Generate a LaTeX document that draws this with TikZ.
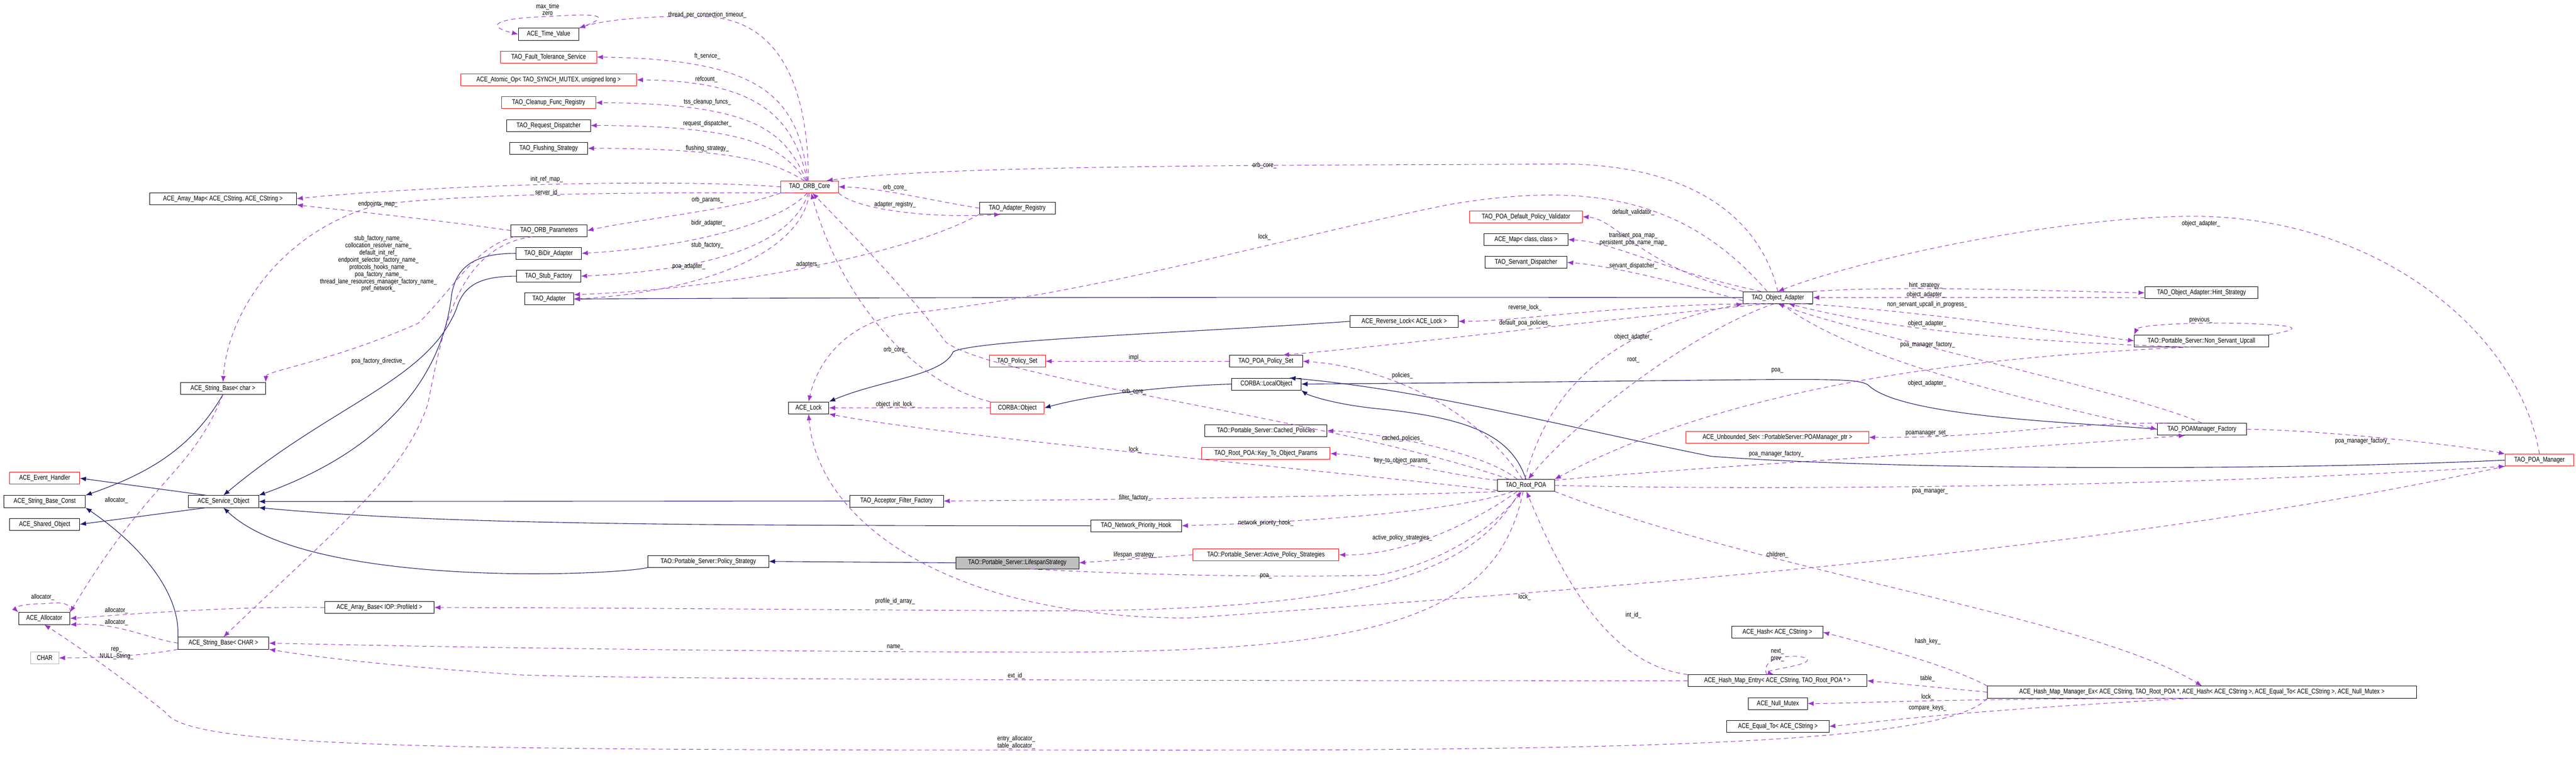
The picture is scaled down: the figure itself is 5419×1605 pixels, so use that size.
\documentclass[tikz,border=0pt]{standalone}
\usepackage{fontspec}
\setmainfont{Liberation Sans}[FakeStretch=0.8]
\usetikzlibrary{arrows.meta}
\definecolor{mem}{HTML}{9A32CD}
\definecolor{inh}{HTML}{191970}
\tikzset{
 cls/.style={draw=black,line width=0.9pt,font=\fontsize{14.5}{16}\selectfont,inner sep=2pt,minimum height=25pt,fill=white},
 rcls/.style={cls,draw=red},
 lbl/.style={font=\fontsize{14}{15}\selectfont,inner sep=0pt,align=center},
 memb/.style={draw=mem,line width=1.1pt,dash pattern=on 9pt off 7pt,arrows={-{Latex[length=13pt,width=10pt,fill=mem,color=mem]}}},
 inhe/.style={draw=inh,line width=1.2pt,arrows={-{Latex[length=13pt,width=10pt,fill=inh,color=inh]}}}
}
\begin{document}
\begin{tikzpicture}[x=1pt,y=-1pt]
\useasboundingbox (0,0) rectangle (5419,1605);
% ---- inheritance edges (drawn first, boxes on top)
\node[cls,minimum width=309] (am) at (469,418) {ACE\_Array\_Map< ACE\_CString, ACE\_CString >};
\node[cls,minimum width=179] (sbc) at (469,817) {ACE\_String\_Base< char >};
\node[rcls,minimum width=147] (eh) at (94,1006) {ACE\_Event\_Handler};
\node[cls,minimum width=171] (sbconst) at (94,1055) {ACE\_String\_Base\_Const};
\node[cls,minimum width=148] (so) at (470,1055) {ACE\_Service\_Object};
\node[cls,minimum width=147] (sho) at (94,1103) {ACE\_Shared\_Object};
\node[cls,minimum width=108] (alloc) at (93,1301) {ACE\_Allocator};
\node[cls,draw=gray!60,minimum width=59] (chr) at (94,1384) {CHAR};
\node[cls,minimum width=191] (sbC) at (470,1353) {ACE\_String\_Base< CHAR >};
\node[cls,minimum width=230] (ab) at (798,1278) {ACE\_Array\_Base< IOP::ProfileId >};
\node[cls,minimum width=127] (tv) at (1154,72) {ACE\_Time\_Value};
\node[rcls,minimum width=202] (ft) at (1154,120) {TAO\_Fault\_Tolerance\_Service};
\node[rcls,minimum width=370] (ao) at (1154,168) {ACE\_Atomic\_Op< TAO\_SYNCH\_MUTEX, unsigned long >};
\node[rcls,minimum width=198] (cfr) at (1154,216) {TAO\_Cleanup\_Func\_Registry};
\node[cls,minimum width=176] (rd) at (1154,264) {TAO\_Request\_Dispatcher};
\node[cls,minimum width=164] (fs) at (1154,312) {TAO\_Flushing\_Strategy};
\node[rcls,minimum width=121] (orb) at (1703,393) {TAO\_ORB\_Core};
\node[cls,minimum width=160] (op) at (1155,485) {TAO\_ORB\_Parameters};
\node[cls,minimum width=138] (bidir) at (1154,533) {TAO\_BiDir\_Adapter};
\node[cls,minimum width=135] (stub) at (1154,581) {TAO\_Stub\_Factory};
\node[cls,minimum width=103] (ad) at (1155,629) {TAO\_Adapter};
\node[cls,minimum width=85] (lock) at (1701,858) {ACE\_Lock};
\node[cls,minimum width=197] (aff) at (1886,1054) {TAO\_Acceptor\_Filter\_Factory};
\node[cls,minimum width=254] (ps) at (1490,1181) {TAO::Portable\_Server::Policy\_Strategy};
\node[cls,minimum width=159] (ar) at (2140,438) {TAO\_Adapter\_Registry};
\node[cls,minimum width=227] (rl) at (2954,676) {ACE\_Reverse\_Lock< ACE\_Lock >};
\node[rcls,minimum width=118] (pset) at (2140,760) {TAO\_Policy\_Set};
\node[cls,minimum width=154] (pps) at (2663,760) {TAO\_POA\_Policy\_Set};
\node[cls,minimum width=146] (lo) at (2664,808) {CORBA::LocalObject};
\node[rcls,minimum width=113] (co) at (2140,858) {CORBA::Object};
\node[cls,minimum width=257] (cp) at (2663,906) {TAO::Portable\_Server::Cached\_Policies};
\node[rcls,minimum width=270] (ktop) at (2663,954) {TAO\_Root\_POA::Key\_To\_Object\_Params};
\node[cls,minimum width=191] (nph) at (2390,1106) {TAO\_Network\_Priority\_Hook};
\node[cls,fill=gray!50,minimum width=259] (ls) at (2140,1184) {TAO::Portable\_Server::LifespanStrategy};
\node[rcls,minimum width=307] (aps) at (2663,1167) {TAO::Portable\_Server::Active\_Policy\_Strategies};
\node[rcls,minimum width=237] (dpv) at (3210,456) {TAO\_POA\_Default\_Policy\_Validator};
\node[cls,minimum width=176] (map) at (3210,504) {ACE\_Map< class, class >};
\node[cls,minimum width=172] (sd) at (3210,552) {TAO\_Servant\_Dispatcher};
\node[cls,minimum width=147] (oa) at (3740,626) {TAO\_Object\_Adapter};
\node[rcls,minimum width=384] (us) at (3739,920) {ACE\_Unbounded\_Set< ::PortableServer::POAManager\_ptr >};
\node[cls,minimum width=120] (rp) at (3210,1021) {TAO\_Root\_POA};
\node[cls,minimum width=191] (hash) at (3739,1330) {ACE\_Hash< ACE\_CString >};
\node[cls,minimum width=377] (hme) at (3739,1432) {ACE\_Hash\_Map\_Entry< ACE\_CString, TAO\_Root\_POA * >};
\node[cls,minimum width=124] (nm) at (3740,1480) {ACE\_Null\_Mutex};
\node[cls,minimum width=215] (eq) at (3740,1528) {ACE\_Equal\_To< ACE\_CString >};
\node[cls,minimum width=238] (hs) at (4631,616) {TAO\_Object\_Adapter::Hint\_Strategy};
\node[cls,minimum width=282] (nsu) at (4631,717) {TAO::Portable\_Server::Non\_Servant\_Upcall};
\node[cls,minimum width=188] (pmf) at (4632,903) {TAO\_POAManager\_Factory};
\node[rcls,minimum width=144] (pm) at (5342,968) {TAO\_POA\_Manager};
\node[cls,minimum width=902] (hmm) at (4632,1456) {ACE\_Hash\_Map\_Manager\_Ex< ACE\_CString, TAO\_Root\_POA *, ACE\_Hash< ACE\_CString >, ACE\_Equal\_To< ACE\_CString >, ACE\_Null\_Mutex >};

\draw[inhe] (so.160) -- (eh.east);
\draw[inhe] (so.200) -- (sho.east);
\draw[inhe] (aff.west) -- (so.east);
\draw[inhe] (nph.west) .. controls (1300,1106) and (900,1100) .. (so.south east);
\draw[inhe] (ps.south west) .. controls (1300,1210) and (650,1240) .. (so.south);
\draw[inhe] (ls.west) -- (ps.east);
\draw[inhe] (bidir.west) .. controls (1000,533) and (960,560) .. (950,620) .. controls (930,800) and (800,950) .. (so.north east);
\draw[inhe] (stub.west) .. controls (1010,581) and (975,600) .. (960,650) .. controls (900,800) and (700,850) .. (so.north);
\draw[inhe] (sbc.south) .. controls (400,950) and (300,1000) .. (sbconst.north east);
\draw[inhe] (sbC.north west) .. controls (380,1250) and (300,1150) .. (sbconst.south east);
\draw[inhe] (oa.west) .. controls (3000,625) and (2000,625) .. (ad.east);
\draw[inhe] (rl.west) .. controls (2500,700) and (2050,715) .. (2005,740) .. controls (1985,790) and (1850,800) .. (lock.north east);
\draw[inhe] (lo.west) .. controls (2450,812) and (2300,830) .. (co.east);
\draw[inhe] (rp.north) .. controls (3180,920) and (3100,880) .. (2900,860) .. controls (2800,850) and (2750,830) .. (lo.south east);
\draw[inhe] (pmf.west) .. controls (4400,890) and (4000,880) .. (3930,810) .. controls (3900,790) and (3800,800) .. (lo.east);
\draw[inhe] (pm.west) .. controls (4800,990) and (4000,990) .. (3600,960) .. controls (3300,900) and (3000,820) .. (lo.15);

% ---- member edges
\draw[memb] (orb.100) .. controls (1700,150) and (1620,38) .. (1480,35) .. controls (1350,32) and (1260,45) .. (tv.north east);
\draw[memb] (tv.north east) .. controls (1300,30) and (1250,28) .. (1150,35) .. controls (1040,38) and (1020,55) .. (tv.west);
\draw[memb] (orb.105) .. controls (1680,200) and (1600,125) .. (ft.east);
\draw[memb] (orb.110) .. controls (1670,250) and (1600,170) .. (ao.east);
\draw[memb] (orb.115) .. controls (1650,280) and (1600,218) .. (cfr.east);
\draw[memb] (orb.120) .. controls (1650,320) and (1600,264) .. (rd.east);
\draw[memb] (orb.130) .. controls (1640,350) and (1580,312) .. (fs.east);
\draw[memb] (orb.west) .. controls (1400,375) and (900,390) .. (am.east);
\draw[memb] (orb.200) .. controls (1400,405) and (1000,405) .. (800,430) .. controls (600,480) and (480,650) .. (sbc.north);
\draw[memb] (op.west) .. controls (900,460) and (700,440) .. (am.south east);
\draw[memb] (op.190) .. controls (1000,520) and (960,600) .. (880,680) .. controls (700,760) and (560,780) .. (sbc.north east);
\draw[memb] (op.200) .. controls (960,520) and (930,700) .. (900,850) .. controls (850,1000) and (700,1120) .. (sbC.north);
\draw[memb] (orb.south west) .. controls (1550,440) and (1350,460) .. (op.east);
\draw[memb] (orb.250) .. controls (1640,470) and (1450,520) .. (bidir.east);
\draw[memb] (orb.260) .. controls (1660,530) and (1450,570) .. (stub.east);
\draw[memb] (orb.270) .. controls (1680,560) and (1400,620) .. (ad.east);
\draw[memb] (ar.south west) .. controls (1900,540) and (1500,610) .. (ad.10);
\draw[memb] (ar.west) .. controls (1950,420) and (1850,395) .. (orb.east);
\draw[memb] (orb.south east) .. controls (1800,440) and (1950,460) .. (ar.200);
\draw[memb] (oa.north) .. controls (3700,450) and (3550,350) .. (3300,345) .. controls (2800,348) and (2000,345) .. (orb.20);
\draw[memb] (oa.150) .. controls (3550,420) and (3350,380) .. (3050,430) .. controls (2700,500) and (2300,620) .. (1900,660) .. controls (1780,680) and (1720,760) .. (lock.north);
\draw[memb] (co.north west) .. controls (1900,800) and (1760,600) .. (orb.285);
\draw[memb] (co.west) -- (lock.east);
\draw[memb] (rp.160) .. controls (2800,880) and (2100,800) .. (1990,720) .. controls (1900,600) and (1780,480) .. (orb.295);
\draw[memb] (rp.190) .. controls (2800,990) and (2000,920) .. (lock.south east);
\draw[memb] (pm.south west) .. controls (4500,1150) and (3500,1230) .. (2500,1300) .. controls (2000,1300) and (1720,1100) .. (lock.south);
\draw[memb] (pps.west) -- (pset.east);
\draw[memb] (rp.120) .. controls (3100,850) and (2900,770) .. (pps.east);
\draw[memb] (rp.145) .. controls (3120,950) and (2900,910) .. (cp.east);
\draw[memb] (rp.170) .. controls (3050,1000) and (2900,960) .. (ktop.east);
\draw[memb] (rp.195) .. controls (3000,1040) and (2500,1050) .. (aff.east);
\draw[memb] (rp.205) .. controls (3050,1080) and (2700,1100) .. (nph.east);
\draw[memb] (rp.215) .. controls (3100,1100) and (2950,1170) .. (aps.east);
\draw[memb] (aps.west) -- (ls.east);
\draw[memb] (ls.335) .. controls (2400,1210) and (2700,1215) .. (2900,1210) .. controls (3050,1180) and (3150,1100) .. (rp.235);
\draw[memb] (rp.225) .. controls (3100,1200) and (2900,1285) .. (2200,1285) .. controls (1600,1282) and (1200,1278) .. (ab.east);
\draw[memb] (rp.245) .. controls (3150,1300) and (2900,1372) .. (2200,1372) .. controls (1400,1370) and (900,1360) .. (sbC.east);
\draw[memb] (hme.west) .. controls (3000,1432) and (1500,1432) .. (1100,1420) .. controls (800,1400) and (650,1380) .. (sbC.south east);
\draw[memb] (hme.north west) .. controls (3400,1400) and (3300,1250) .. (rp.275);
\draw[memb] (hme.150) .. controls (3700,1380) and (3780,1375) .. (3800,1385) .. controls (3820,1400) and (3700,1410) .. (hme.120);
\draw[memb] (rp.south east) .. controls (3700,1200) and (4400,1300) .. (hmm.north);
\draw[memb] (hmm.north west) .. controls (4100,1400) and (3950,1360) .. (hash.east);
\draw[memb] (hmm.west) -- (hme.east);
\draw[memb] (hmm.200) .. controls (4050,1470) and (3900,1480) .. (nm.east);
\draw[memb] (hmm.210) .. controls (4050,1500) and (3950,1520) .. (eq.east);
\draw[memb] (hmm.south west) .. controls (4100,1560) and (3500,1578) .. (2500,1578) .. controls (1000,1578) and (400,1578) .. (350,1500) .. controls (250,1420) and (150,1350) .. (alloc.south);
\draw[memb] (rp.east) .. controls (3600,1030) and (4500,1030) .. (pm.south west);
\draw[memb] (rp.10) .. controls (3600,980) and (4300,940) .. (pmf.200);
\draw[memb] (pmf.north) .. controls (4500,830) and (3900,700) .. (oa.south);
\draw[memb] (oa.300) .. controls (3900,760) and (4300,850) .. (pmf.west);
\draw[memb] (pmf.east) .. controls (4900,905) and (5200,940) .. (pm.north west);
\draw[memb] (pmf.170) .. controls (4300,890) and (4200,922) .. (us.east);
\draw[memb] (pm.north) .. controls (5300,700) and (5000,450) .. (4600,455) .. controls (4300,460) and (3900,550) .. (oa.north);
\draw[memb] (oa.10) .. controls (4000,600) and (4300,612) .. (hs.west);
\draw[memb] (hs.185) .. controls (4300,625) and (4000,626) .. (oa.east);
\draw[memb] (oa.345) .. controls (4000,650) and (4350,700) .. (nsu.west);
\draw[memb] (nsu.200) .. controls (4300,720) and (4000,700) .. (oa.330);
\draw[memb] (nsu.north east) .. controls (4800,700) and (4850,690) .. (4800,685) .. controls (4700,675) and (4500,680) .. (nsu.north west);
\draw[memb] (nsu.210) .. controls (4300,745) and (3700,780) .. (rp.north east);
\draw[memb] (oa.240) .. controls (3550,700) and (3300,900) .. (rp.70);
\draw[memb] (rp.100) .. controls (3250,850) and (3350,700) .. (oa.south west);
\draw[memb] (oa.170) .. controls (3450,560) and (3400,460) .. (dpv.east);
\draw[memb] (oa.160) .. controls (3500,570) and (3400,510) .. (map.east);
\draw[memb] (oa.185) .. controls (3550,600) and (3400,560) .. (sd.east);
\draw[memb] (oa.200) .. controls (3400,640) and (3200,676) .. (rl.east);
\draw[memb] (oa.210) .. controls (3300,680) and (3000,720) .. (pps.20);
\draw[memb] (sbc.south) .. controls (400,1000) and (320,1000) .. (alloc.north east);
\draw[memb] (alloc.north east) .. controls (150,1260) and (110,1270) .. (90,1270) .. controls (40,1270) and (30,1280) .. (alloc.north west);
\draw[memb] (ab.west) .. controls (500,1275) and (300,1290) .. (alloc.east);
\draw[memb] (sbC.west) .. controls (300,1340) and (250,1310) .. (alloc.south east);
\draw[memb] (sbC.south west) .. controls (300,1380) and (200,1384) .. (chr.east);

% ---- labels
\node[lbl] (l1) at (1152,20) {max\_time\\zero};
\node[lbl] (l2) at (1488,32) {thread\_per\_connection\_timeout\_};
\node[lbl] (l3) at (1488,118) {ft\_service\_};
\node[lbl] (l4) at (1486,167) {refcount\_};
\node[lbl] (l5) at (1488,215) {tss\_cleanup\_funcs\_};
\node[lbl] (l6) at (1488,260) {request\_dispatcher\_};
\node[lbl] (l7) at (1488,312) {flushing\_strategy\_};
\node[lbl] (l8) at (1150,377) {init\_ref\_map\_};
\node[lbl] (l9) at (1152,405) {server\_id\_};
\node[lbl] (l10) at (795,429) {endpoints\_map\_};
\node[lbl] (l11) at (796,555) {stub\_factory\_name\_\\collocation\_resolver\_name\_\\default\_init\_ref\_\\endpoint\_selector\_factory\_name\_\\protocols\_hooks\_name\_\\poa\_factory\_name\_\\thread\_lane\_resources\_manager\_factory\_name\_\\pref\_network\_};
\node[lbl] (l12) at (796,760) {poa\_factory\_directive\_};
\node[lbl] (l13) at (1488,421) {orb\_params\_};
\node[lbl] (l14) at (1490,469) {bidir\_adapter\_};
\node[lbl] (l15) at (1488,516) {stub\_factory\_};
\node[lbl] (l16) at (1449,560) {poa\_adapter\_};
\node[lbl] (l17) at (1700,556) {adapters\_};
\node[lbl] (l18) at (1883,395) {orb\_core\_};
\node[lbl] (l19) at (1883,430) {adapter\_registry\_};
\node[lbl] (l20) at (2660,348) {orb\_core\_};
\node[lbl] (l21) at (2660,499) {lock\_};
\node[lbl] (l22) at (1884,736) {orb\_core\_};
\node[lbl] (l23) at (1884,851) {object\_init\_lock\_};
\node[lbl] (l24) at (2386,824) {orb\_core\_};
\node[lbl] (l25) at (2388,946) {lock\_};
\node[lbl] (l26) at (2388,752) {impl\_};
\node[lbl] (l27) at (2950,790) {policies\_};
\node[lbl] (l28) at (2950,922) {cached\_policies\_};
\node[lbl] (l29) at (2950,969) {key\_to\_object\_params\_};
\node[lbl] (l30) at (2388,1047) {filter\_factory\_};
\node[lbl] (l31) at (2663,1100) {network\_priority\_hook\_};
\node[lbl] (l32) at (2950,1132) {active\_policy\_strategies\_};
\node[lbl] (l33) at (2388,1167) {lifespan\_strategy\_};
\node[lbl] (l34) at (2663,1212) {poa\_};
\node[lbl] (l35) at (1883,1265) {profile\_id\_array\_};
\node[lbl] (l36) at (1883,1362) {name\_};
\node[lbl] (l37) at (2138,1422) {ext\_id\_};
\node[lbl] (l38) at (3436,1294) {int\_id\_};
\node[lbl] (l39) at (3739,1378) {next\_\\prev\_};
\node[lbl] (l40) at (4055,1349) {hash\_key\_};
\node[lbl] (l41) at (4055,1427) {table\_};
\node[lbl] (l42) at (4055,1467) {lock\_};
\node[lbl] (l43) at (4055,1489) {compare\_keys\_};
\node[lbl] (l44) at (2138,1562) {entry\_allocator\_\\table\_allocator\_};
\node[lbl] (l45) at (3207,1256) {lock\_};
\node[lbl] (l46) at (3739,1167) {children\_};
\node[lbl] (l47) at (4060,1034) {poa\_manager\_};
\node[lbl] (l48) at (3737,955) {poa\_manager\_factory\_};
\node[lbl] (l49) at (4970,928) {poa\_manager\_factory\_};
\node[lbl] (l50) at (4054,911) {poamanager\_set\_};
\node[lbl] (l51) at (4055,725) {poa\_manager\_factory\_};
\node[lbl] (l52) at (4054,807) {object\_adapter\_};
\node[lbl] (l53) at (4054,681) {object\_adapter\_};
\node[lbl] (l54) at (4054,641) {non\_servant\_upcall\_in\_progress\_};
\node[lbl] (l55) at (4051,620) {object\_adapter\_};
\node[lbl] (l56) at (4051,601) {hint\_strategy\_};
\node[lbl] (l57) at (4630,673) {previous\_};
\node[lbl] (l58) at (4630,470) {object\_adapter\_};
\node[lbl] (l59) at (3739,780) {poa\_};
\node[lbl] (l60) at (3436,709) {object\_adapter\_};
\node[lbl] (l61) at (3436,757) {root\_};
\node[lbl] (l62) at (3436,447) {default\_validator\_};
\node[lbl] (l63) at (3436,503) {transient\_poa\_map\_\\persistent\_poa\_name\_map\_};
\node[lbl] (l64) at (3436,559) {servant\_dispatcher\_};
\node[lbl] (l65) at (3208,647) {reverse\_lock\_};
\node[lbl] (l66) at (3208,680) {default\_poa\_policies\_};
\node[lbl] (l67) at (245,1052) {allocator\_};
\node[lbl] (l68) at (90,1256) {allocator\_};
\node[lbl] (l69) at (245,1284) {allocator\_};
\node[lbl] (l70) at (245,1309) {allocator\_};
\node[lbl] (l71) at (245,1375) {rep\_\\NULL\_String\_};
\end{tikzpicture}
\end{document}
